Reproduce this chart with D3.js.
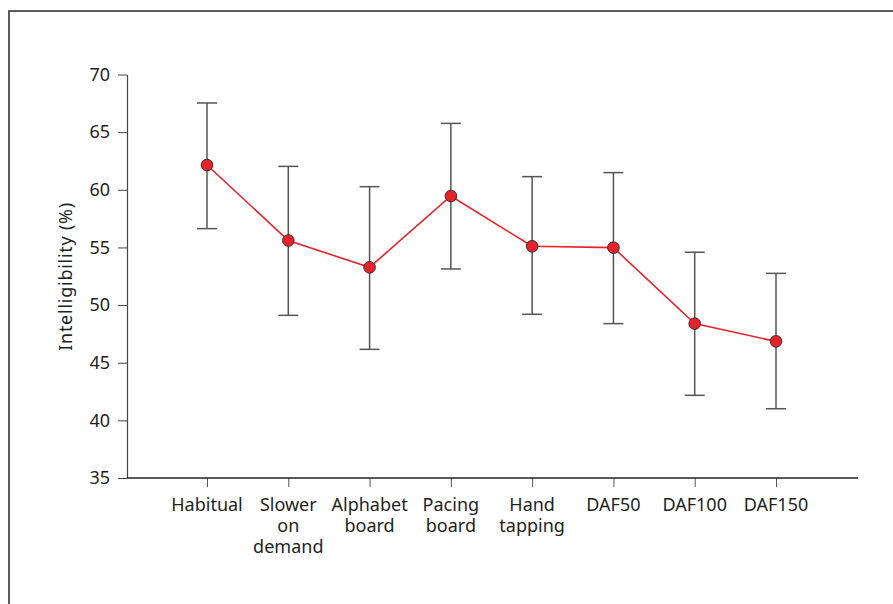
<!DOCTYPE html>
<html>
<head>
<meta charset="utf-8">
<script src="https://cdn.jsdelivr.net/npm/d3@7"></script>
<style>
  body { margin: 0; background: #fff; }
  svg text { font-family: "Noto Sans", "Open Sans", sans-serif; fill: #231f20; }
</style>
</head>
<body>
<div id="chart"></div>
<script>
// data
const categories = ['Habitual', 'Slower on demand', 'Alphabet board', 'Pacing board',
  'Hand tapping', 'DAF50', 'DAF100', 'DAF150'];
const labelLines = [['Habitual'], ['Slower', 'on', 'demand'], ['Alphabet', 'board'], ['Pacing', 'board'],
  ['Hand', 'tapping'], ['DAF50'], ['DAF100'], ['DAF150']];
const means = [62.15, 55.6, 53.27, 59.46, 55.1, 54.98, 48.39, 46.85];
const upper = [67.53, 62.03, 60.27, 65.76, 61.14, 61.49, 54.58, 52.75];
const lower = [56.63, 49.11, 46.16, 53.13, 49.2, 48.39, 42.17, 41.01];
const yTicks = [35, 40, 45, 50, 55, 60, 65, 70];

const width = 893, height = 604;

const svg = d3.select('#chart')
  .append('svg')
  .attr('width', width)
  .attr('height', height);

// frame (only left and top are visible)
svg.append('rect')
  .attr('x', 9).attr('y', 11)
  .attr('width', 1000).attr('height', 1000)
  .attr('fill', 'none')
  .attr('stroke', '#333')
  .attr('stroke-width', 1.6);

// scales
const x = d3.scalePoint()
  .domain(categories)
  .range([207, 776]);

const y = d3.scaleLinear()
  .domain([35, 70])
  .range([478, 74.5]);

const axisLeftX = 127, axisRightX = 858;

// y axis
const yAxis = svg.append('g')
  .attr('transform', `translate(${axisLeftX},0)`)
  .call(d3.axisLeft(y).tickValues(yTicks).tickSize(9).tickPadding(8).tickSizeOuter(0));
yAxis.select('.domain').attr('stroke', '#444').attr('stroke-width', 1.2);
yAxis.selectAll('.tick line').attr('stroke', '#444');
yAxis.selectAll('.tick text')
  .style('font-size', '18px')
  .attr('fill', '#231f20');

svg.append('text')
  .attr('transform', `translate(72, ${y(52.45)}) rotate(-90)`)
  .attr('text-anchor', 'middle')
  .attr('textLength', 148)
  .attr('lengthAdjust', 'spacing')
  .style('font-size', '18px')
  .text('Intelligibility (%)');

// x axis
const xAxis = svg.append('g')
  .attr('transform', `translate(0,${y(35)})`)
  .call(d3.axisBottom(x).tickSize(9).tickFormat(''));
xAxis.select('.domain').remove();
xAxis.selectAll('.tick line').attr('stroke', '#555');
xAxis.append('line')
  .attr('x1', axisLeftX).attr('x2', axisRightX)
  .attr('stroke', '#222').attr('stroke-width', 1.3);

// category labels, one text per line
const catGroups = svg.append('g').selectAll('g')
  .data(categories)
  .join('g');
catGroups.each(function(d, i) {
  d3.select(this).selectAll('text')
    .data(labelLines[i])
    .join('text')
    .attr('x', x(d))
    .attr('y', (t, j) => y(35) + 33 + j * 21)
    .attr('text-anchor', 'middle')
    .style('font-size', '18px')
    .text(t => t);
});

// error bars
const bars = svg.append('g').selectAll('g')
  .data(categories)
  .join('g')
  .attr('stroke', '#555')
  .attr('stroke-width', 1.5);
bars.append('line')
  .attr('x1', d => x(d)).attr('x2', d => x(d))
  .attr('y1', (d, i) => y(upper[i]))
  .attr('y2', (d, i) => y(lower[i]));
bars.append('line')
  .attr('x1', d => x(d) - 10).attr('x2', d => x(d) + 10)
  .attr('y1', (d, i) => y(upper[i]))
  .attr('y2', (d, i) => y(upper[i]));
bars.append('line')
  .attr('x1', d => x(d) - 10).attr('x2', d => x(d) + 10)
  .attr('y1', (d, i) => y(lower[i]))
  .attr('y2', (d, i) => y(lower[i]));

// mean line
const line = d3.line()
  .x((d, i) => x(categories[i]))
  .y(d => y(d));

svg.append('path')
  .datum(means)
  .attr('fill', 'none')
  .attr('stroke', '#e8222b')
  .attr('stroke-width', 1.6)
  .attr('d', line);

svg.append('g').selectAll('circle')
  .data(means)
  .join('circle')
  .attr('cx', (d, i) => x(categories[i]))
  .attr('cy', d => y(d))
  .attr('r', 5.8)
  .attr('fill', '#e8222b')
  .attr('stroke', '#3a2a2a')
  .attr('stroke-width', 1);
</script>
</body>
</html>
